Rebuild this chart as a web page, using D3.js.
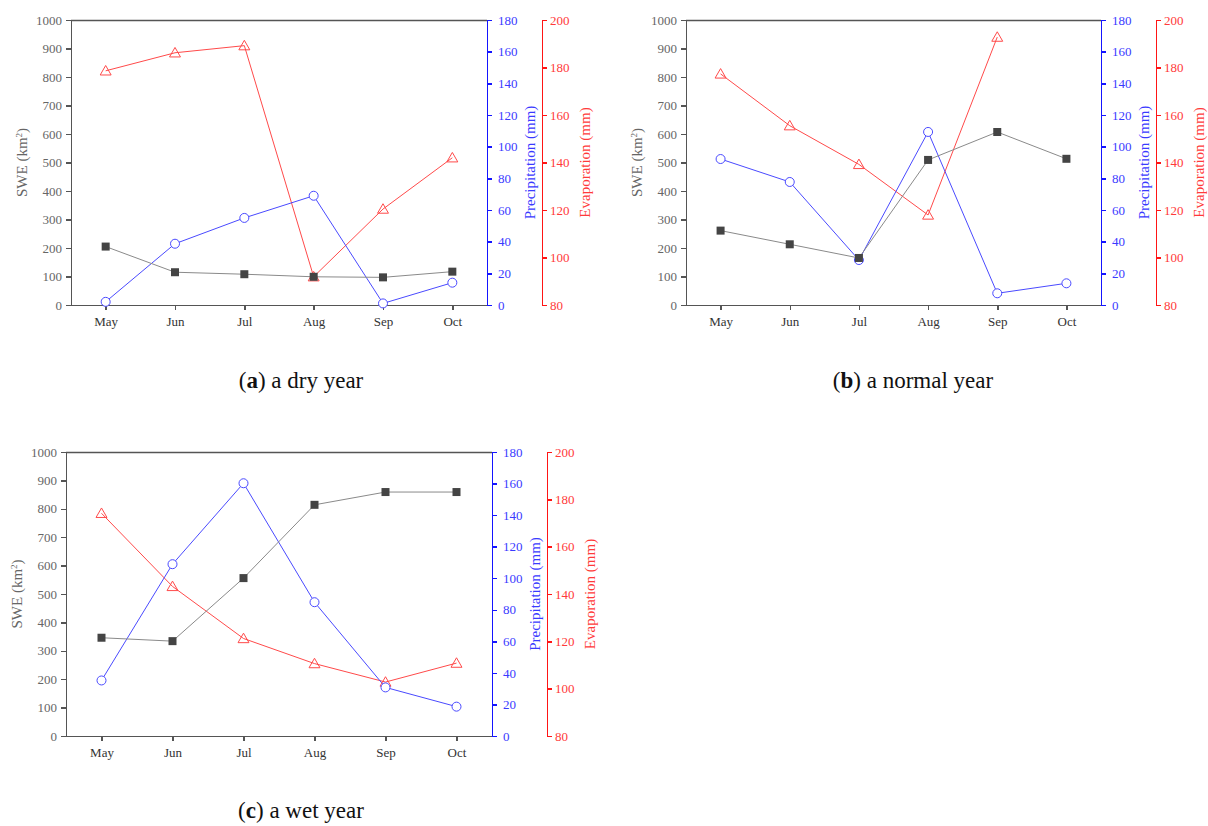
<!DOCTYPE html>
<html>
<head>
<meta charset="utf-8">
<style>
  body { margin: 0; background: #fff; }
  svg { display: block; font-family: "Liberation Serif", "Times New Roman", serif; }
  .axis text { font-size: 13px; font-family: "Liberation Serif", "Times New Roman", serif !important; }
  .axis path, .axis line { shape-rendering: crispEdges; }
  .title { font-size: 15px; }
  .caption { font-size: 23px; fill: #111; }
</style>
</head>
<body>
<script src="https://cdnjs.cloudflare.com/ajax/libs/d3/7.8.5/d3.min.js"></script>
<script>
var months = ["May", "Jun", "Jul", "Aug", "Sep", "Oct"];

var sweTicks = [0, 100, 200, 300, 400, 500, 600, 700, 800, 900, 1000];
var precTicks = [0, 20, 40, 60, 80, 100, 120, 140, 160, 180];
var evapTicks = [80, 100, 120, 140, 160, 180, 200];

// a dry year
var sweDry = [205, 115, 108, 99, 97, 117];
var precDry = [2, 38.7, 55, 69, 1, 14.1];
var evapDry = [178.6, 186.2, 189.2, 91.9, 120.4, 142];

// a normal year
var sweNormal = [261, 213, 165, 509, 607, 513];
var precNormal = [92.2, 77.7, 28.4, 109.3, 7.4, 13.7];
var evapNormal = [177.3, 155.5, 139.2, 117.9, 192.8, null];

// a wet year
var sweWet = [346, 334, 556, 814, 859, 859];
var precWet = [35.2, 108.9, 160.2, 84.8, 30.8, 18.6];
var evapWet = [174.1, 143.2, 121.2, 110.6, 102.8, 110.8];

var panels = [
  { key: "a", label: " a dry year", swe: sweDry, prec: precDry, evap: evapDry,
    left: 71, right: 487, evapX: 542, top: 20, bottom: 305, capX: 301, capY: 388 },
  { key: "b", label: " a normal year", swe: sweNormal, prec: precNormal, evap: evapNormal,
    left: 686, right: 1101, evapX: 1156, top: 20, bottom: 305, capX: 913, capY: 388 },
  { key: "c", label: " a wet year", swe: sweWet, prec: precWet, evap: evapWet,
    left: 66, right: 492, evapX: 547, top: 452, bottom: 736, capX: 301, capY: 818 }
];

var gray = "#555", blue = "#1515ff", red = "#ff1515";
var fmt = d3.format("d");

var svg = d3.select("body").append("svg")
  .attr("width", 1208)
  .attr("height", 826);

panels.forEach(function(p) {
  var g = svg.append("g");

  var x = d3.scalePoint().domain(months).range([p.left, p.right]).padding(0.5);
  var ySwe = d3.scaleLinear().domain([0, 1000]).range([p.bottom, p.top]);
  var yPrec = d3.scaleLinear().domain([0, 180]).range([p.bottom, p.top]);
  var yEvap = d3.scaleLinear().domain([80, 200]).range([p.bottom, p.top]);

  // top frame line
  g.append("line")
    .attr("x1", p.left).attr("x2", p.right)
    .attr("y1", p.top + 0.5).attr("y2", p.top + 0.5)
    .attr("stroke", gray).attr("stroke-width", 1.5);

  function styleAxis(sel, color, textColor) {
    sel.attr("class", "axis").attr("font-size", null).attr("font-family", null);
    sel.select(".domain").attr("stroke", color).attr("stroke-width", 1.5);
    sel.selectAll(".tick line").attr("stroke", color).attr("stroke-width", 1.5);
    sel.selectAll(".tick text").attr("fill", textColor);
  }

  g.append("g")
    .attr("transform", "translate(0," + p.bottom + ")")
    .call(d3.axisBottom(x).tickSizeInner(5).tickSizeOuter(0).tickPadding(7))
    .call(styleAxis, gray, "#333");

  g.append("g")
    .attr("transform", "translate(" + p.left + ",0)")
    .call(d3.axisLeft(ySwe).tickValues(sweTicks).tickFormat(fmt).tickSizeInner(5).tickSizeOuter(0).tickPadding(4))
    .call(styleAxis, gray, "#666");

  g.append("g")
    .attr("transform", "translate(" + p.right + ",0)")
    .call(d3.axisRight(yPrec).tickValues(precTicks).tickFormat(fmt).tickSizeInner(5).tickSizeOuter(0).tickPadding(6))
    .call(styleAxis, blue, "#3a3aff");

  g.append("g")
    .attr("transform", "translate(" + p.evapX + ",0)")
    .call(d3.axisRight(yEvap).tickValues(evapTicks).tickFormat(fmt).tickSizeInner(5).tickSizeOuter(0).tickPadding(3))
    .call(styleAxis, red, "#ff3a3a");

  var midY = (p.top + p.bottom) / 2;

  var t = g.append("text").attr("class", "title")
    .attr("transform", "translate(" + (p.left - 44) + "," + midY + ") rotate(-90)")
    .attr("text-anchor", "middle").attr("fill", "#666");
  t.append("tspan").text("SWE (km");
  t.append("tspan").attr("font-size", "9px").attr("baseline-shift", "super").text("2");
  t.append("tspan").text(")");

  g.append("text").attr("class", "title")
    .attr("transform", "translate(" + (p.right + 48) + "," + midY + ") rotate(-90)")
    .attr("text-anchor", "middle").attr("fill", "#3a3aff")
    .text("Precipitation (mm)");

  g.append("text").attr("class", "title")
    .attr("transform", "translate(" + (p.evapX + 48) + "," + midY + ") rotate(-90)")
    .attr("text-anchor", "middle").attr("fill", "#ff3a3a")
    .text("Evaporation (mm)");

  function series(values, y, lineColor) {
    var pts = values.map(function(v, i) { return { m: months[i], v: v }; });
    var line = d3.line()
      .defined(function(d) { return d.v != null; })
      .x(function(d) { return x(d.m); })
      .y(function(d) { return y(d.v); });
    g.append("path").datum(pts)
      .attr("d", line)
      .attr("fill", "none")
      .attr("stroke", lineColor)
      .attr("stroke-width", 1);
    return pts.filter(function(d) { return d.v != null; });
  }

  var evapPts = series(p.evap, yEvap, "#ff4a4a");
  var precPts = series(p.prec, yPrec, "#4a4aff");
  var swePts = series(p.swe, ySwe, "#8a8a8a");

  var tri = d3.symbol().type(d3.symbolTriangle).size(52);
  g.selectAll(".tri").data(evapPts).enter().append("path")
    .attr("transform", function(d) { return "translate(" + x(d.m) + "," + (yEvap(d.v) + 1) + ")"; })
    .attr("d", tri)
    .attr("fill", "none")
    .attr("stroke", "#ff4a4a")
    .attr("stroke-width", 1);

  g.selectAll(".circ").data(precPts).enter().append("circle")
    .attr("cx", function(d) { return x(d.m); })
    .attr("cy", function(d) { return yPrec(d.v); })
    .attr("r", 4.5)
    .attr("fill", "#fff")
    .attr("stroke", "#4a4aff")
    .attr("stroke-width", 1);

  g.selectAll(".sq").data(swePts).enter().append("rect")
    .attr("x", function(d) { return x(d.m) - 4; })
    .attr("y", function(d) { return ySwe(d.v) - 4; })
    .attr("width", 8)
    .attr("height", 8)
    .attr("fill", "#444");

  var cap = svg.append("text").attr("class", "caption")
    .attr("x", p.capX).attr("y", p.capY)
    .attr("text-anchor", "middle");
  cap.append("tspan").text("(");
  cap.append("tspan").attr("font-weight", "bold").text(p.key);
  cap.append("tspan").text(")" + p.label);
});
</script>
</body>
</html>
